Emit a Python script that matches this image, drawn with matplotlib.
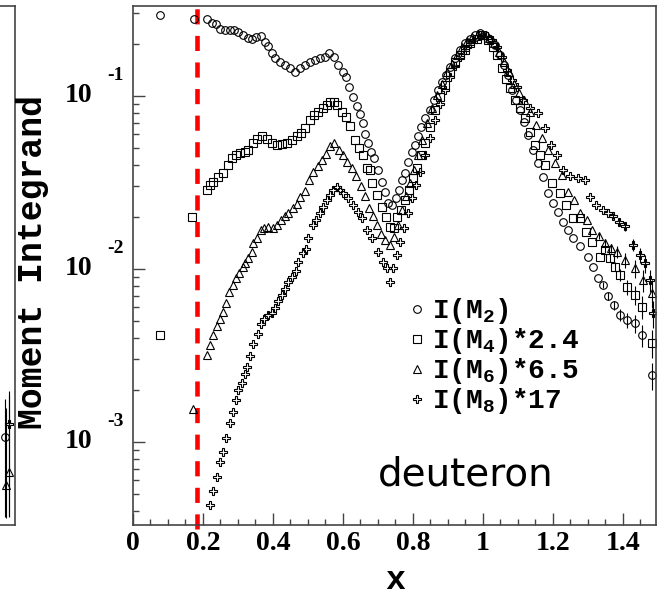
import matplotlib
matplotlib.use("Agg")
import matplotlib.pyplot as plt
import matplotlib.transforms as mtransforms
from matplotlib.lines import Line2D
from matplotlib.ticker import FixedLocator, MultipleLocator, LogLocator, NullFormatter
import numpy as np

plt.rcParams["mathtext.fontset"] = "custom"
plt.rcParams["mathtext.rm"] = "Liberation Mono:bold"
plt.rcParams["mathtext.it"] = "Liberation Mono:bold"
plt.rcParams["mathtext.bf"] = "Liberation Mono:bold"

# ---- data (values as plotted, M4/M6/M8 already multiplied by the legend factors)
m2_x = [0.077, 0.174, 0.211, 0.226, 0.237, 0.249, 0.263, 0.277, 0.289, 0.300,
        0.314, 0.329, 0.340, 0.351, 0.366, 0.377, 0.386, 0.397, 0.406, 0.420,
        0.434, 0.449, 0.463, 0.477, 0.491, 0.506, 0.520, 0.534, 0.549, 0.560,
        0.574, 0.586, 0.600, 0.609, 0.617, 0.629, 0.640, 0.649, 0.657, 0.663,
        0.671, 0.680, 0.689, 0.700, 0.711, 0.720, 0.729, 0.740, 0.751, 0.760,
        0.769, 0.777, 0.786, 0.797, 0.806, 0.814, 0.823, 0.834, 0.849, 0.860,
        0.871, 0.883, 0.894, 0.906, 0.920, 0.934, 0.949, 0.963, 0.977, 0.991,
        1.006, 1.020, 1.034, 1.049, 1.060, 1.071, 1.083, 1.094, 1.106, 1.117,
        1.129, 1.143, 1.157, 1.171, 1.186, 1.200, 1.214, 1.229, 1.243, 1.257,
        1.277, 1.300, 1.314, 1.329, 1.343, 1.357, 1.374, 1.391, 1.411, 1.434,
        1.454, 1.483]
m2_y = [0.294, 0.279, 0.279, 0.263, 0.260, 0.245, 0.242, 0.242, 0.241, 0.234,
        0.225, 0.216, 0.214, 0.219, 0.222, 0.205, 0.194, 0.178, 0.166, 0.157,
        0.151, 0.145, 0.137, 0.145, 0.151, 0.157, 0.162, 0.166, 0.168, 0.178,
        0.168, 0.151, 0.137, 0.129, 0.112, 0.0989, 0.0875, 0.0787, 0.0697, 0.0603,
        0.0534, 0.0474, 0.0439, 0.0373, 0.0318, 0.0278, 0.0241, 0.0234, 0.0257, 0.0286,
        0.0327, 0.0358, 0.0416, 0.0474, 0.0521, 0.0587, 0.0662, 0.0746, 0.0830, 0.0948,
        0.108, 0.121, 0.132, 0.147, 0.166, 0.185, 0.202, 0.214, 0.225, 0.231,
        0.225, 0.211, 0.197, 0.173, 0.151, 0.132, 0.108, 0.0948, 0.0830, 0.0706,
        0.0595, 0.0488, 0.0410, 0.0340, 0.0275, 0.0241, 0.0213, 0.0187, 0.0168, 0.0151,
        0.0136, 0.0117, 0.0103, 0.00888, 0.00808, 0.00697, 0.00619, 0.00542, 0.00507, 0.00487,
        0.00415, 0.00243]

m4_x = [0.077, 0.169, 0.211, 0.220, 0.229, 0.243, 0.257, 0.271, 0.283, 0.294,
        0.306, 0.320, 0.329, 0.343, 0.354, 0.369, 0.383, 0.397, 0.411, 0.426,
        0.440, 0.454, 0.469, 0.480, 0.491, 0.506, 0.517, 0.529, 0.543, 0.554,
        0.563, 0.574, 0.583, 0.597, 0.609, 0.620, 0.634, 0.646, 0.657, 0.669,
        0.677, 0.683, 0.697, 0.711, 0.723, 0.734, 0.746, 0.754, 0.766, 0.777,
        0.789, 0.800, 0.811, 0.823, 0.834, 0.849, 0.863, 0.877, 0.891, 0.906,
        0.920, 0.934, 0.949, 0.963, 0.983, 0.997, 1.014, 1.029, 1.040, 1.054,
        1.066, 1.077, 1.091, 1.106, 1.120, 1.134, 1.149, 1.163, 1.177, 1.197,
        1.220, 1.237, 1.257, 1.277, 1.294, 1.311, 1.334, 1.349, 1.363, 1.377,
        1.391, 1.411, 1.434, 1.454, 1.483]
m4_y = [0.00415, 0.0201, 0.0286, 0.0306, 0.0318, 0.0340, 0.0358, 0.0399, 0.0438, 0.0456,
        0.0468, 0.0474, 0.0488, 0.0534, 0.0562, 0.0587, 0.0562, 0.0534, 0.0521, 0.0528,
        0.0534, 0.0557, 0.0583, 0.0611, 0.0652, 0.0726, 0.0777, 0.0806, 0.0853, 0.0887,
        0.0923, 0.0923, 0.0887, 0.0806, 0.0756, 0.0671, 0.0557, 0.0501, 0.0456, 0.0383,
        0.0373, 0.0314, 0.0268, 0.0228, 0.0200, 0.0175, 0.0173, 0.0200, 0.0219, 0.0251,
        0.0286, 0.0336, 0.0383, 0.0456, 0.0534, 0.0662, 0.0830, 0.0989, 0.116, 0.137,
        0.157, 0.173, 0.185, 0.202, 0.214, 0.225, 0.211, 0.192, 0.173, 0.145,
        0.126, 0.111, 0.0948, 0.0853, 0.0746, 0.0619, 0.0521, 0.0456, 0.0399, 0.0314,
        0.0275, 0.0234, 0.0197, 0.0197, 0.0164, 0.0143, 0.0117, 0.0129, 0.0116, 0.0103,
        0.00923, 0.00786, 0.00707, 0.00604, 0.00374]

m6_x = [0.171, 0.211, 0.220, 0.229, 0.240, 0.249, 0.257, 0.266, 0.274, 0.286,
        0.294, 0.303, 0.314, 0.320, 0.329, 0.340, 0.343, 0.354, 0.366, 0.374,
        0.386, 0.400, 0.411, 0.423, 0.434, 0.443, 0.457, 0.469, 0.477, 0.491,
        0.503, 0.514, 0.529, 0.540, 0.551, 0.563, 0.574, 0.589, 0.600, 0.611,
        0.626, 0.637, 0.651, 0.663, 0.674, 0.686, 0.697, 0.709, 0.720, 0.734,
        0.746, 0.757, 0.769, 0.780, 0.791, 0.803, 0.814, 0.826, 0.840, 0.854,
        0.869, 0.883, 0.897, 0.911, 0.926, 0.940, 0.954, 0.969, 0.986, 1.003,
        1.017, 1.031, 1.046, 1.060, 1.074, 1.089, 1.103, 1.117, 1.134, 1.151,
        1.169, 1.186, 1.206, 1.226, 1.243, 1.260, 1.277, 1.297, 1.311, 1.331,
        1.349, 1.366, 1.383, 1.406, 1.434, 1.457, 1.483]
m6_y = [0.00155, 0.00318, 0.00364, 0.00415, 0.00468, 0.00514, 0.00566, 0.00636, 0.00736, 0.00808,
        0.00888, 0.00948, 0.0102, 0.0108, 0.0116, 0.0125, 0.0141, 0.0151, 0.0168, 0.0173,
        0.0175, 0.0173, 0.0180, 0.0192, 0.0202, 0.0211, 0.0225, 0.0238, 0.0261, 0.0282,
        0.0327, 0.0363, 0.0394, 0.0427, 0.0462, 0.0515, 0.0534, 0.0488, 0.0456, 0.0416,
        0.0383, 0.0344, 0.0302, 0.0264, 0.0225, 0.0203, 0.0180, 0.0160, 0.0147, 0.0138,
        0.0153, 0.0180, 0.0219, 0.0264, 0.0314, 0.0373, 0.0456, 0.0557, 0.0697, 0.0853,
        0.101, 0.118, 0.137, 0.154, 0.173, 0.192, 0.208, 0.218, 0.227, 0.225,
        0.216, 0.202, 0.180, 0.157, 0.137, 0.118, 0.104, 0.0948, 0.0806, 0.0679,
        0.0572, 0.0488, 0.0410, 0.0349, 0.0280, 0.0251, 0.0211, 0.0192, 0.0168, 0.0155,
        0.0141, 0.0132, 0.0125, 0.0113, 0.0101, 0.00863, 0.00727]

m8_x = [0.220, 0.229, 0.240, 0.249, 0.257, 0.266, 0.277, 0.286, 0.294, 0.300,
        0.311, 0.320, 0.326, 0.334, 0.343, 0.357, 0.366, 0.374, 0.386, 0.397,
        0.406, 0.414, 0.426, 0.434, 0.443, 0.454, 0.466, 0.471, 0.486, 0.494,
        0.500, 0.514, 0.523, 0.534, 0.543, 0.554, 0.563, 0.571, 0.583, 0.591,
        0.600, 0.614, 0.629, 0.643, 0.654, 0.669, 0.683, 0.700, 0.714, 0.726,
        0.734, 0.743, 0.754, 0.763, 0.774, 0.786, 0.797, 0.809, 0.820, 0.834,
        0.849, 0.863, 0.877, 0.891, 0.906, 0.920, 0.934, 0.949, 0.963, 0.980,
        0.997, 1.011, 1.026, 1.040, 1.054, 1.069, 1.083, 1.097, 1.114, 1.134,
        1.157, 1.177, 1.194, 1.211, 1.229, 1.249, 1.271, 1.291, 1.306, 1.323,
        1.343, 1.357, 1.371, 1.389, 1.406, 1.429, 1.449, 1.463, 1.477, 1.486]
m8_y = [0.000432, 0.000518, 0.000625, 0.000761, 0.000878, 0.00106, 0.00129, 0.00149, 0.00175, 0.00200,
        0.00218, 0.00247, 0.00272, 0.00314, 0.00369, 0.00421, 0.00481, 0.00514, 0.00542, 0.00556,
        0.00595, 0.00654, 0.00707, 0.00766, 0.00840, 0.00898, 0.00973, 0.0110, 0.0123, 0.0131,
        0.0151, 0.0180, 0.0192, 0.0211, 0.0228, 0.0251, 0.0268, 0.0286, 0.0298, 0.0286,
        0.0275, 0.0257, 0.0234, 0.0213, 0.0197, 0.0168, 0.0151, 0.0125, 0.0110, 0.0101,
        0.00840, 0.0101, 0.0120, 0.0143, 0.0173, 0.0211, 0.0257, 0.0306, 0.0363, 0.0456,
        0.0572, 0.0726, 0.0899, 0.108, 0.129, 0.149, 0.168, 0.185, 0.199, 0.214,
        0.225, 0.223, 0.211, 0.192, 0.168, 0.141, 0.124, 0.113, 0.0948, 0.0853,
        0.0796, 0.0652, 0.0521, 0.0456, 0.0373, 0.0345, 0.0336, 0.0327, 0.0262, 0.0234,
        0.0219, 0.0211, 0.0202, 0.0187, 0.0177, 0.0138, 0.0120, 0.0108, 0.00863, 0.00556]

# relative errors of the last points of each series (high-x tail)
tail_rel_err = [0.04, 0.05, 0.06, 0.08, 0.10, 0.12, 0.15, 0.18]

legend_labels = ["I(M$_2$)", "I(M$_4$)*2.4", "I(M$_6$)*6.5", "I(M$_8$)*17"]
x_cut = 0.183

# neighbour panel (cut off at the left edge)
nb_x = [1.445, 1.41, 1.445, 1.418]
nb_y = [0.00127, 0.00107, 0.000671, 0.000564]
nb_lo = [0.00090, 0.00070, 0.00030, 0.00020]
nb_hi = [0.00070, 0.00070, 0.00120, 0.00100]
nb_mk = ["P", "o", "^", "^"]

serif_bold = {"family": "Liberation Serif", "weight": "bold"}
mono_bold = {"family": "Liberation Mono", "weight": "bold"}

fig = plt.figure(figsize=(6.62, 5.96), dpi=100)
ax = fig.add_axes([133 / 662, 71 / 596, 523 / 662, 519 / 596])

series = [(m2_x, m2_y, "o"), (m4_x, m4_y, "s"), (m6_x, m6_y, "^"), (m8_x, m8_y, "P")]
for xs, ys, mk in series:
    xs = np.array(xs)
    ys = np.array(ys)
    err = np.zeros_like(ys)
    n = len(tail_rel_err)
    err[-n:] = ys[-n:] * np.array(tail_rel_err)
    ax.errorbar(xs, ys, yerr=err, fmt=mk, ms=5.5, mfc="none", mec="black",
                mew=0.8, ecolor="black", elinewidth=0.8, capsize=0)

ax.axvline(x_cut, ymin=-0.008, ymax=1.015, color="#ff0000", lw=3.3,
           ls=(0, (3.3, 2.5)), clip_on=False)

ax.set_yscale("log")
ax.set_xlim(0, 1.495)
ax.set_ylim(10 ** -3.48, 10 ** -0.48)

for s in ax.spines.values():
    s.set_color("#444444")
    s.set_linewidth(1.2)

ax.xaxis.set_major_locator(FixedLocator([0, 0.2, 0.4, 0.6, 0.8, 1.0, 1.2, 1.4]))
ax.xaxis.set_minor_locator(MultipleLocator(0.05))
ax.set_xticklabels(["0", "0.2", "0.4", "0.6", "0.8", "1", "1.2", "1.4"],
                   fontdict={**serif_bold, "size": 20})
ax.yaxis.set_major_locator(LogLocator(base=10, numticks=10))
ax.yaxis.set_minor_locator(LogLocator(base=10, subs=np.arange(2, 10), numticks=20))
ax.yaxis.set_major_formatter(NullFormatter())
ax.yaxis.set_minor_formatter(NullFormatter())
ax.tick_params(which="both", direction="in", color="#444444", width=1.0)
ax.tick_params(which="major", length=8.5)
ax.tick_params(which="minor", length=4.3)
ax.tick_params(axis="x", which="major", pad=4)

# ROOT-style "10" with a detached exponent
trans = mtransforms.blended_transform_factory(ax.transAxes, ax.transData)
for e in (-1, -2, -3):
    ax.text(-0.078, 10.0 ** e, "10", transform=trans, ha="right", va="center",
            fontdict={**serif_bold, "size": 20})
    ax.annotate(str(e), xy=(-0.05, 10.0 ** e), xycoords=trans, xytext=(0, 15),
                textcoords="offset points", ha="left", va="center",
                fontfamily="Liberation Serif", fontweight="bold", fontsize=14)

handles = [Line2D([], [], ls="none", marker=mk, ms=5.5, mfc="none", mec="black", mew=0.8)
           for _, _, mk in series]
leg = ax.legend(handles, legend_labels, loc="upper left", bbox_to_anchor=(0.505, 0.462),
                frameon=False, handlelength=0.6, handletextpad=0.25, labelspacing=0.0,
                borderaxespad=0, prop={"family": "Liberation Mono", "weight": "bold", "size": 20})

ax.text(0.468, 0.077, "deuteron", transform=ax.transAxes, fontsize=28,
        fontfamily="DejaVu Sans", ha="left", va="baseline")

fig.text(33 / 662, 1 - 262 / 596, "Moment Integrand", rotation=90, ha="center",
         va="center", fontdict={**mono_bold, "size": 25})
fig.text(395 / 662, 1 - 589 / 596, "x", ha="center", va="baseline",
         fontdict={**mono_bold, "size": 24})

# neighbouring panel, mostly outside the figure
ax2 = fig.add_axes([-150 / 662, 71 / 596, 165 / 662, 519 / 596])
ax2.set_yscale("log")
ax2.set_xlim(0, 1.5)
ax2.set_ylim(10 ** -3.48, 10 ** -0.48)
for xv, yv, lo, hi, mk in zip(nb_x, nb_y, nb_lo, nb_hi, nb_mk):
    ax2.errorbar([xv], [yv], yerr=[[lo], [hi]], fmt=mk, ms=5.5, mfc="none",
                 mec="black", mew=0.8, ecolor="black", elinewidth=0.8)
ax2.set_xticks([])
ax2.set_yticks([])
ax2.minorticks_off()
for s in ax2.spines.values():
    s.set_color("#444444")
    s.set_linewidth(1.2)

fig.savefig("out.png", dpi=100)
